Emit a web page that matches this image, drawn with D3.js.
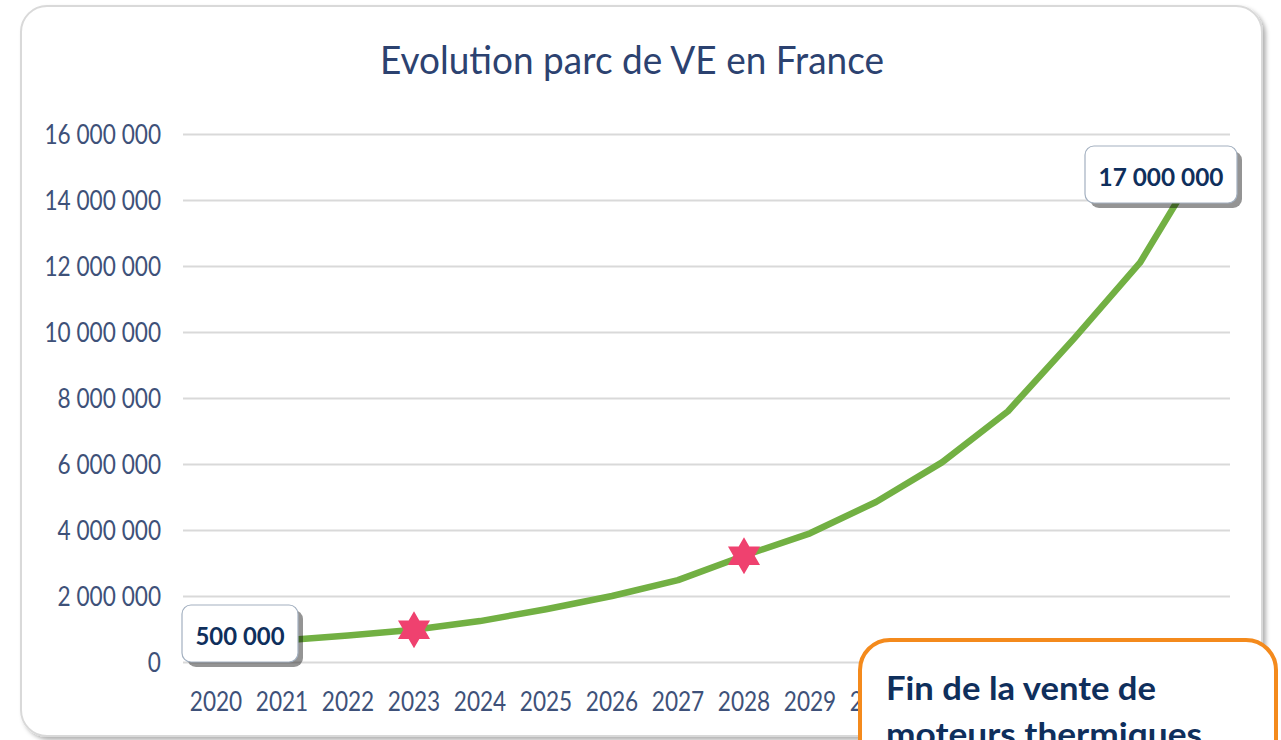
<!DOCTYPE html>
<html>
<head>
<meta charset="utf-8">
<script src="https://cdn.jsdelivr.net/npm/d3@7"></script>
<style>
  html, body { margin: 0; padding: 0; background: #fff; }
  svg { display: block; }
  .tick text { font-family: Lato, sans-serif; fill: #3e5179; }
</style>
</head>
<body>
<svg id="chart" width="1281" height="740"></svg>
<script>
// data
const years = ['2020', '2021', '2022', '2023', '2024', '2025', '2026', '2027',
  '2028', '2029', '2030', '2031', '2032', '2033', '2034', '2035'];
const fleet = [500000, 650000, 800000, 980000, 1240000, 1600000, 2000000, 2480000,
  3220000, 3900000, 4850000, 6050000, 7600000, 9800000, 12100000, 15400000];
const yTicks = [0, 2000000, 4000000, 6000000, 8000000, 10000000, 12000000, 14000000, 16000000];
const starYears = ['2023', '2028'];
const labelYears = ['2020', '2035'];
const labelTexts = ['500 000', '17 000 000'];
const titleText = 'Evolution parc de VE en France';
const noteLines = ['Fin de la vente de', 'moteurs thermiques'];

const svg = d3.select('#chart');
const fr = d3.formatLocale({ decimal: ',', thousands: ' ', grouping: [3], currency: ['', ' €'] });
const fmt = fr.format(',d');

// squeeze Lato a bit so it runs like Calibri
function condense(sel, k) {
  sel.each(function () {
    const w = this.getComputedTextLength();
    d3.select(this).attr('textLength', w * k).attr('lengthAdjust', 'spacingAndGlyphs');
  });
}

const defs = svg.append('defs');
const sh = defs.append('filter').attr('id', 'cardShadow')
  .attr('x', '-5%').attr('y', '-5%').attr('width', '110%').attr('height', '110%');
sh.append('feDropShadow').attr('dx', 3).attr('dy', 3).attr('stdDeviation', 2)
  .attr('flood-color', '#000').attr('flood-opacity', 0.3);

// card
svg.append('rect')
  .attr('x', 21).attr('y', 6)
  .attr('width', 1241).attr('height', 730)
  .attr('rx', 26)
  .attr('fill', '#fff')
  .attr('stroke', '#d9d9d9')
  .attr('stroke-width', 2)
  .attr('filter', 'url(#cardShadow)');

const gridLeft = 183;
const gridRight = 1230;
const x = d3.scaleBand().domain(years).range([gridLeft, gridLeft + 16 * 66]);
const y = d3.scaleLinear().domain([0, 16000000]).range([662, 134]);
const cx = d => x(d) + x.bandwidth() / 2;

// title
svg.append('text')
  .attr('x', 632).attr('y', 74)
  .attr('text-anchor', 'middle')
  .style('font-family', 'Lato, sans-serif')
  .style('font-size', '39px')
  .attr('fill', '#2c4270')
  .attr('textLength', 504)
  .attr('lengthAdjust', 'spacingAndGlyphs')
  .text(titleText);

// grid + y axis
const yAxis = svg.append('g')
  .attr('transform', `translate(${gridLeft},0)`)
  .call(d3.axisLeft(y).tickValues(yTicks).tickFormat(fmt)
    .tickSize(-(gridRight - gridLeft)).tickPadding(22));
yAxis.select('.domain').remove();
yAxis.selectAll('.tick line').attr('stroke', '#d9d9d9').attr('stroke-width', 2.2);
yAxis.selectAll('.tick text').style('font-size', '26px').attr('dy', '0.36em').call(condense, 0.87);

// x axis labels
const xAxis = svg.append('g')
  .attr('transform', 'translate(0,662)')
  .call(d3.axisBottom(x).tickSize(0).tickPadding(31));
xAxis.select('.domain').remove();
xAxis.selectAll('.tick text').style('font-size', '26px').call(condense, 0.87);

// line
const line = d3.line().x((d, i) => cx(years[i])).y(d => y(d));
svg.append('path')
  .datum(fleet)
  .attr('d', line)
  .attr('fill', 'none')
  .attr('stroke', '#72b043')
  .attr('stroke-width', 6.5)
  .attr('stroke-linejoin', 'round');

// six-pointed stars
function hexagram(R) {
  const pts = d3.range(12).map(i => {
    const a = -Math.PI / 2 + i * Math.PI / 6;
    const r = i % 2 === 0 ? R : R / Math.sqrt(3);
    return [r * Math.cos(a), r * Math.sin(a)];
  });
  return 'M' + pts.join('L') + 'Z';
}
svg.selectAll('.star')
  .data(starYears)
  .enter()
  .append('path')
  .attr('class', 'star')
  .attr('transform', d => `translate(${cx(d)},${y(fleet[years.indexOf(d)])})`)
  .attr('d', hexagram(18.5))
  .attr('fill', '#ef416f');

// data labels
const boxes = [
  { year: labelYears[0], text: labelTexts[0], x: 182, y: 605, w: 116, h: 57, tw: 89 },
  { year: labelYears[1], text: labelTexts[1], x: 1085, y: 146, w: 152, h: 57, tw: 125 }
];
const lab = svg.selectAll('.dlabel')
  .data(boxes)
  .enter()
  .append('g')
  .attr('class', 'dlabel');
lab.append('rect')
  .attr('x', d => d.x + 5).attr('y', d => d.y + 5)
  .attr('width', d => d.w).attr('height', d => d.h)
  .attr('rx', 9)
  .attr('fill', 'rgba(0,0,0,0.42)');
lab.append('rect')
  .attr('x', d => d.x).attr('y', d => d.y)
  .attr('width', d => d.w).attr('height', d => d.h)
  .attr('rx', 9)
  .attr('fill', '#fff')
  .attr('stroke', '#a3b0c0')
  .attr('stroke-width', 1.2);
lab.append('text')
  .attr('x', d => d.x + d.w / 2)
  .attr('y', d => d.y + 40)
  .attr('text-anchor', 'middle')
  .style('font-family', 'Lato, sans-serif')
  .style('font-weight', 'bold')
  .style('font-size', '25px')
  .attr('fill', '#0f2f5c')
  .attr('textLength', d => d.tw)
  .attr('lengthAdjust', 'spacingAndGlyphs')
  .text(d => d.text);

// orange note box
const note = svg.append('g');
note.append('rect')
  .attr('x', 860).attr('y', 640)
  .attr('width', 416).attr('height', 200)
  .attr('rx', 30)
  .attr('fill', '#fff')
  .attr('stroke', '#f48a1c')
  .attr('stroke-width', 4);
note.selectAll('text')
  .data(noteLines)
  .enter()
  .append('text')
  .attr('x', 886)
  .attr('y', (d, i) => 700 + i * 46)
  .style('font-family', 'Lato, sans-serif')
  .style('font-weight', 'bold')
  .style('font-size', '32px')
  .attr('fill', '#0f2f5c')
  .attr('textLength', (d, i) => i === 0 ? 270 : 316)
  .attr('lengthAdjust', 'spacingAndGlyphs')
  .text(d => d);
</script>
</body>
</html>
